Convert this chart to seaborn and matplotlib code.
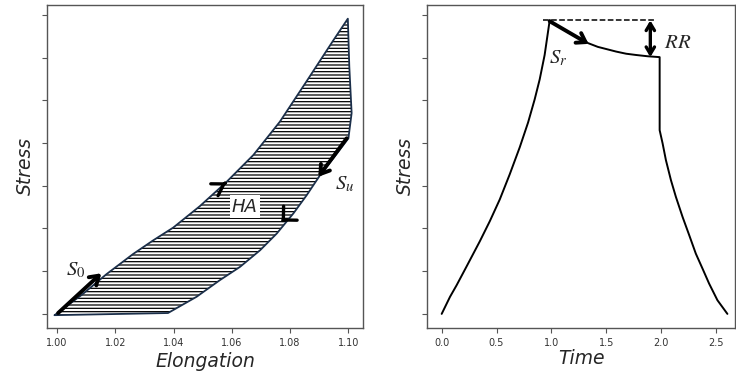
import numpy as np
import pandas as pd
import matplotlib
matplotlib.use("Agg")
import matplotlib.pyplot as plt
import seaborn as sns

# hysteresis loop (left): loading branch and unloading branch, stress in tick units
load_x = [0.9992, 1.0086, 1.0170, 1.0261, 1.0330, 1.0399, 1.0490, 1.0582, 1.0674, 1.0765,
          1.0857, 1.0948, 1.0998]
load_y = [-0.03, 0.45, 0.93, 1.40, 1.72, 2.02, 2.52, 3.09, 3.72, 4.50, 5.45, 6.40, 6.91]
unload_x = [1.0998, 1.1003, 1.1011, 1.1000, 1.0948, 1.0903, 1.0857, 1.0811, 1.0754,
            1.0697, 1.0628, 1.0559, 1.0479, 1.0399, 1.0381, 0.9992]
unload_y = [6.91, 5.79, 4.70, 4.11, 3.64, 3.25, 2.78, 2.35, 1.88,
            1.49, 1.10, 0.79, 0.40, 0.09, 0.02, -0.03]
elong_ticks = [1.00, 1.02, 1.04, 1.06, 1.08, 1.10]

# stress relaxation test (right): ramp up, hold, release
time_vals = [0.0, 0.076, 0.136, 0.227, 0.348, 0.439, 0.530, 0.621, 0.712, 0.788, 0.848,
             0.894, 0.939, 0.985,
             1.076, 1.167, 1.258, 1.333, 1.424, 1.5, 1.591, 1.682, 1.773, 1.879, 1.988,
             1.988, 2.015, 2.045, 2.091, 2.136, 2.197, 2.258, 2.318, 2.379, 2.439, 2.515, 2.606]
stress_vals = [0.0, 0.40, 0.67, 1.11, 1.70, 2.17, 2.68, 3.27, 3.90, 4.48, 5.02,
               5.49, 6.06, 6.87,
               6.71, 6.57, 6.44, 6.34, 6.25, 6.20, 6.14, 6.09, 6.06, 6.03, 6.01,
               4.30, 3.99, 3.60, 3.13, 2.74, 2.27, 1.84, 1.41, 1.06, 0.71, 0.32, 0.0]
time_ticks = [0.0, 0.5, 1.0, 1.5, 2.0, 2.5]
stress_ticks = [0, 1, 2, 3, 4, 5, 6, 7]

sns.set_style("ticks")
plt.rcParams["mathtext.fontset"] = "stix"
plt.rcParams["hatch.linewidth"] = 0.9

frame = "#555555"
fig = plt.figure(figsize=(7.36, 3.82), dpi=100)
ax1 = fig.add_axes([0.0639, 0.1414, 0.4293, 0.8455])
ax2 = fig.add_axes([0.5806, 0.1414, 0.4180, 0.8455])

# --- left: loop ---
loop_x = load_x + unload_x[1:]
loop_y = load_y + unload_y[1:]
ax1.fill(loop_x, loop_y, facecolor="white", edgecolor="black", linewidth=0, hatch="-----")
outline = pd.DataFrame({"x": loop_x, "y": loop_y})
sns.lineplot(data=outline, x="x", y="y", sort=False, estimator=None, errorbar=None,
             color="#1b2f4a", linewidth=1.3, ax=ax1)

arr = dict(arrowstyle="->,head_length=0.6,head_width=0.4", lw=2.8, color="black",
           shrinkA=0, shrinkB=0)
ax1.annotate("", xy=(1.0152, 0.95), xytext=(1.0004, 0.02), arrowprops=arr)
ax1.annotate("", xy=(1.0897, 3.21), xytext=(1.0994, 4.11), arrowprops=arr)
ax1.annotate("", xy=(1.0582, 3.08), xytext=(1.0576, 3.055),
             arrowprops=dict(arrowstyle="->,head_length=0.8,head_width=0.5", lw=2.4,
                             color="black", shrinkA=0, shrinkB=0))
ax1.annotate("", xy=(1.0771, 2.16), xytext=(1.0776, 2.193),
             arrowprops=dict(arrowstyle="->,head_length=0.7,head_width=0.7", lw=2.4,
                             color="black", shrinkA=0, shrinkB=0))

ax1.text(1.0064, 1.02, "$S_0$", fontsize=15, ha="center", va="center")
ax1.text(1.0954, 3.05, "$S_u$", fontsize=15, ha="left", va="center")
ax1.text(1.0645, 2.51, "HA", fontsize=13, style="italic", ha="center", va="center",
         bbox=dict(facecolor="white", edgecolor="none", pad=1.5))

ax1.set_xlim(0.9966, 1.105)
ax1.set_ylim(-0.33, 7.23)
ax1.set_xticks(elong_ticks)
ax1.set_xticklabels([f"{v:.2f}" for v in elong_ticks])
ax1.set_xlabel("Elongation", fontsize=13.5, style="italic", labelpad=3)

# --- right: relaxation ---
relax = pd.DataFrame({"t": time_vals, "s": stress_vals})
sns.lineplot(data=relax, x="t", y="s", sort=False, estimator=None, errorbar=None,
             color="black", linewidth=1.4, ax=ax2)
ax2.hlines(6.87, 0.924, 1.955, colors="black", linestyles="--", linewidth=1.1)
ax2.annotate("", xy=(1.34, 6.32), xytext=(0.985, 6.85), arrowprops=arr)
ax2.annotate("", xy=(1.903, 6.01), xytext=(1.903, 6.87),
             arrowprops=dict(arrowstyle="<->,head_length=0.5,head_width=0.3", lw=2.4,
                             color="black", shrinkA=0, shrinkB=0))
ax2.text(1.06, 5.98, "$S_r$", fontsize=15, ha="center", va="center")
ax2.text(2.15, 6.375, "$RR$", fontsize=15, ha="center", va="center")

ax2.set_xlim(-0.131, 2.675)
ax2.set_ylim(-0.33, 7.23)
ax2.set_xticks(time_ticks)
ax2.set_xticklabels([f"{v:.1f}" for v in time_ticks])
ax2.set_xlabel("Time", fontsize=13.5, style="italic", labelpad=1)

for ax in (ax1, ax2):
    ax.set_yticks(stress_ticks)
    ax.set_yticklabels([])
    ax.set_ylabel("Stress", fontsize=13.5, style="italic", labelpad=2)
    for sp in ax.spines.values():
        sp.set_visible(True)
        sp.set_color(frame)
        sp.set_linewidth(1.0)
    ax.tick_params(colors=frame, labelcolor="#333333", labelsize=7, length=3.5, width=0.8)

fig.savefig("out.png", dpi=100)
